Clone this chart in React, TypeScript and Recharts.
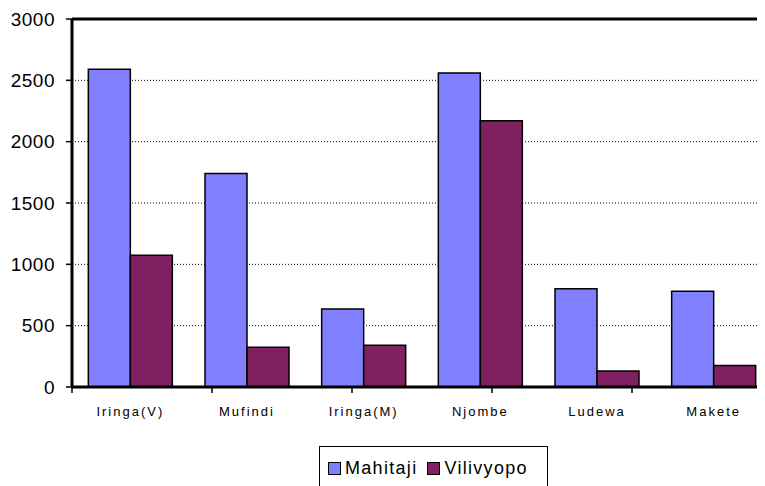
import React from "react";
import {
  Bar,
  BarChart,
  CartesianGrid,
  Legend,
  ReferenceLine,
  XAxis,
  YAxis,
} from "recharts";

const districts = ["Iringa(V)", "Mufindi", "Iringa(M)", "Njombe", "Ludewa", "Makete"];
const mahitaji = [2590, 1740, 635, 2560, 800, 780];
const vilivyopo = [1075, 325, 340, 2170, 130, 175];
const yTicks = [0, 500, 1000, 1500, 2000, 2500, 3000];
const edgeTicks = [0, 1, 2, 3, 4, 5, 6];

const data = districts.map((name, i) => ({
  name,
  Mahitaji: mahitaji[i],
  Vilivyopo: vilivyopo[i],
}));

const FONT = "Arial, 'Liberation Sans', sans-serif";
const BLUE = "#8080FF";
const PLUM = "#802060";

function LegendBox() {
  const item = (color: string, label: string, gap: number) => (
    <div style={{ display: "flex", alignItems: "center", marginRight: gap }}>
      <span
        style={{
          display: "inline-block",
          width: 11,
          height: 11,
          background: color,
          border: "1.5px solid #000",
          marginRight: 4,
        }}
      />
      <span style={{ fontSize: 18, letterSpacing: 1.3, color: "#000" }}>{label}</span>
    </div>
  );
  return (
    <div
      style={{
        marginLeft: 311,
        marginTop: 19,
        width: 229,
        height: 44,
        border: "1.5px solid #000",
        display: "flex",
        alignItems: "center",
        paddingLeft: 8,
        boxSizing: "border-box",
        fontFamily: FONT,
      }}
    >
      {item(BLUE, "Mahitaji", 10)}
      {item(PLUM, "Vilivyopo", 0)}
    </div>
  );
}

export default function App() {
  return (
    <div style={{ width: 757, height: 478, overflow: "hidden", background: "#fff" }}>
      <BarChart
        width={780}
        height={490}
        data={data}
        margin={{ top: 11, right: 16, left: 0, bottom: 0 }}
        barCategoryGap="14%"
        barGap={0}
      >
        <CartesianGrid
          xAxisId="edges"
          vertical={false}
          stroke="#000"
          strokeDasharray="1 2"
        />
        {/* numeric axis 0..6 puts the tick marks on the category borders */}
        <XAxis
          xAxisId="edges"
          type="number"
          domain={[0, 6]}
          allowDataOverflow
          ticks={edgeTicks}
          height={1}
          tick={() => <g />}
          axisLine={{ stroke: "#000", strokeWidth: 3 }}
          tickLine={{ stroke: "#000", strokeWidth: 1.5 }}
          tickSize={6}
        />
        <XAxis
          xAxisId="labels"
          dataKey="name"
          height={39}
          interval={0}
          tickLine={false}
          axisLine={false}
          tickSize={6}
          tickMargin={13}
          tick={{ fill: "#000", fontSize: 13, fontFamily: FONT, letterSpacing: 2 }}
        />
        <YAxis
          width={64}
          domain={[0, 3000]}
          ticks={yTicks}
          interval={0}
          tickSize={6}
          tickMargin={11}
          axisLine={{ stroke: "#000", strokeWidth: 3 }}
          tickLine={{ stroke: "#000", strokeWidth: 1.5 }}
          tick={{ fill: "#000", fontSize: 19, fontFamily: FONT, letterSpacing: 0.5 }}
        />
        <Bar
          xAxisId="labels"
          dataKey="Mahitaji"
          fill={BLUE}
          stroke="#000"
          strokeWidth={1.5}
          isAnimationActive={false}
        />
        <Bar
          xAxisId="labels"
          dataKey="Vilivyopo"
          fill={PLUM}
          stroke="#000"
          strokeWidth={1.5}
          isAnimationActive={false}
        />
        <ReferenceLine xAxisId="labels" y={3000} stroke="#000" strokeWidth={3} />
        <Legend
          verticalAlign="bottom"
          content={() => <LegendBox />}
          wrapperStyle={{ left: 0, width: 780, height: 71, bottom: 0 }}
        />
      </BarChart>
    </div>
  );
}
